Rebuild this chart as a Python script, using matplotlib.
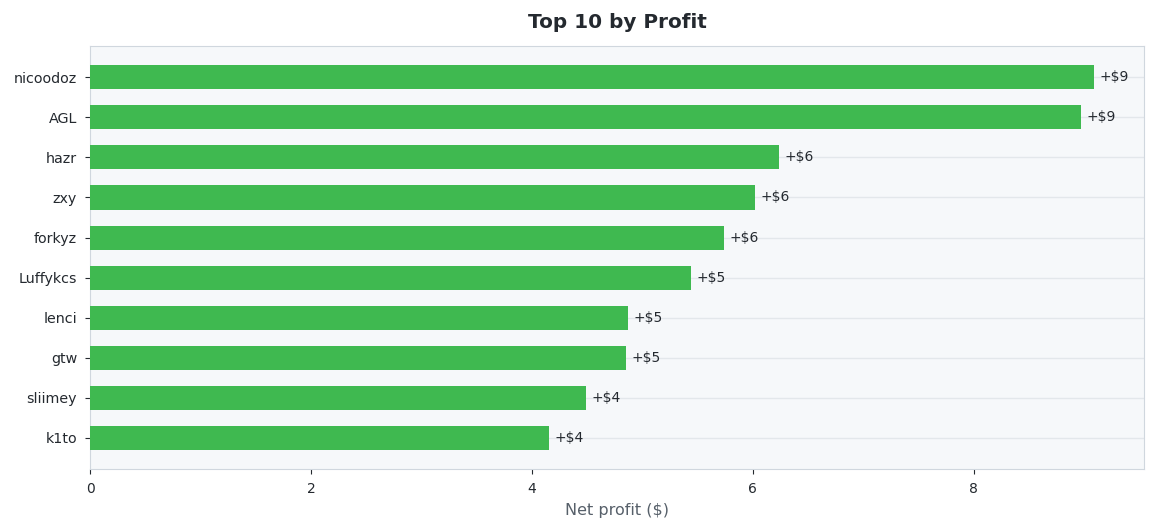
import matplotlib
matplotlib.use("Agg")
import matplotlib.pyplot as plt

names = ["nicoodoz", "AGL", "hazr", "zxy", "forkyz", "Luffykcs", "lenci", "gtw", "sliimey", "k1to"]
profits = [9.09, 8.97, 6.24, 6.02, 5.74, 5.44, 4.87, 4.855, 4.49, 4.15]

plt.rcParams['font.family'] = ['DejaVu Sans']
fig, ax = plt.subplots(figsize=(11.56, 5.31), dpi=100)
fig.subplots_adjust(left=0.078, right=0.99, top=0.913, bottom=0.117)

ax.set_facecolor("#f6f8fa")
ypos = list(range(len(names)))[::-1]
ax.barh(ypos, profits, height=0.6, color="#3fb950", zorder=3)
ax.set_yticks(ypos)
ax.set_yticklabels(names, fontsize=10.3, color="#24292f")
ax.set_xlim(0, max(profits) * 1.05)
ax.tick_params(axis='x', labelsize=10, colors="#24292f", length=3.5, color="#24292f", pad=6.1)
ax.tick_params(axis='y', length=3.6, color="#24292f", pad=5.8)
ax.grid(axis='y', color="#e3e7eb", linewidth=1, zorder=0)
for s in ax.spines.values():
    s.set_color("#d0d7de")
for y, v in zip(ypos, profits):
    ax.text(v + 0.05, y, f"+${v:.0f}", va="center", ha="left", fontsize=10, color="#24292f", zorder=4)

ax.set_xlabel("Net profit ($)", fontsize=11.5, color="#57606a", labelpad=5)
ax.set_title("Top 10 by Profit", fontsize=14.4, fontweight="bold", color="#24292f", pad=13.3)

fig.savefig("out.png", dpi=100, facecolor="white")
